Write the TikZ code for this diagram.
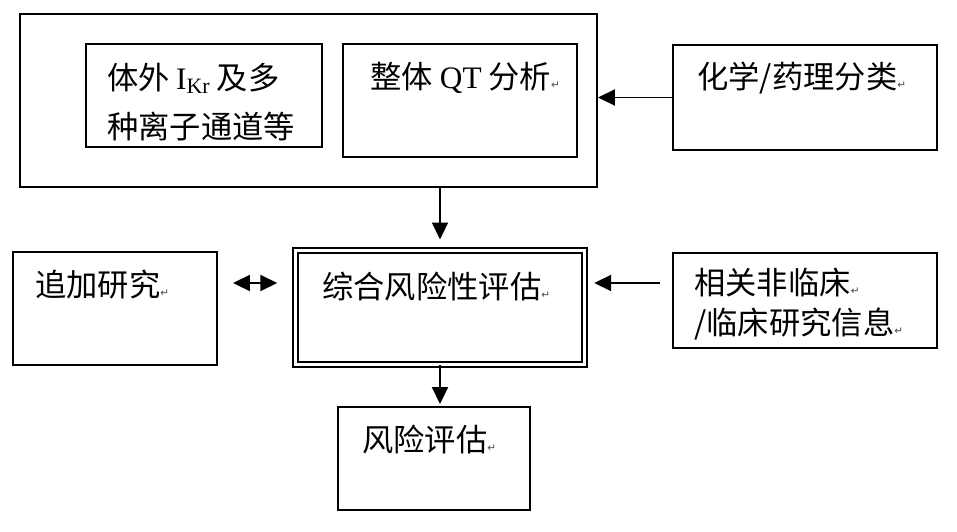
\documentclass[tikz,border=0pt]{standalone}
\usepackage{fontspec}
\setmainfont{Noto Sans CJK SC}
\newfontfamily\latin{Liberation Serif}
\newfontfamily\symfont{DejaVu Sans}
\usetikzlibrary{arrows.meta}
% 段落标记
\newcommand{\pmark}{{\symfont\fontsize{6}{6}\selectfont\color{black!70}↵}}

\begin{document}
\begin{tikzpicture}[
    % 定义样式
    mytip/.tip={Triangle[length=0.34cm, width=0.32cm]},
    mybox/.style={draw=black, line width=1.1pt, inner sep=0pt},
    mydouble/.style={draw=black, double, double distance=1.9pt, line width=1.1pt, inner sep=0pt},
    myarrow/.style={line width=1.1pt, -mytip},
    mydarrow/.style={line width=1.1pt, mytip-mytip},
    mylabel/.style={font={\fontsize{17.8}{27.8}\selectfont}, inner sep=0pt, anchor=west, align=left}
]
    \useasboundingbox (0,0) rectangle (19.14,-10.62);

    % 方框
    \node [mybox, minimum width=11.54cm, minimum height=3.46cm] (qtframe) at (6.17, -2.01) {};
    \node [mybox, minimum width=4.72cm, minimum height=2.06cm] (ikr) at (4.08, -1.91) {};
    \node [mybox, minimum width=4.68cm, minimum height=2.26cm] (qt) at (9.20, -2.01) {};
    \node [mybox, minimum width=5.28cm, minimum height=2.10cm] (chem) at (16.10, -1.95) {};
    \node [mybox, minimum width=4.08cm, minimum height=2.26cm] (extra) at (2.30, -6.17) {};
    \node [mydouble, minimum width=5.79cm, minimum height=2.28cm] (assess) at (8.80, -6.15) {};
    \node [mybox, minimum width=5.28cm, minimum height=1.90cm] (info) at (16.10, -6.01) {};
    \node [mybox, minimum width=3.84cm, minimum height=2.06cm] (risk) at (8.68, -9.17) {};

    % 文字
    \node [mylabel] (ikrtext) at (2.14, -2.035) {体外\hspace{0.2em}{\latin I\textsubscript{Kr}}\hspace{0.2em}及多\\种离子通道等};
    \node [mylabel] (qttext) at (7.40, -1.56) {整体 {\latin QT} 分析\pmark};
    \node [mylabel] (chemtext) at (13.94, -1.56) {化学/药理分类\pmark};
    \node [mylabel] (extratext) at (0.70, -5.70) {追加研究\pmark};
    \node [mylabel] (assesstext) at (6.44, -5.74) {综合风险性评估\pmark};
    \node [mylabel, font={\fontsize{17.8}{22.7}\selectfont}] (infotext) at (13.88, -6.08) {相关非临床\pmark\\/临床研究信息\pmark};
    \node [mylabel] (risktext) at (7.24, -8.80) {风险评估\pmark};

    % 连线
    \draw [myarrow] (chem.west) -- (chem.west -| qtframe.east);
    \draw [myarrow, shorten >=0.2cm] (qtframe.south -| assess.north) -- (assess.north);
    \draw [mydarrow, shorten <=0.3cm, shorten >=0.34cm] ([yshift=0.51cm]extra.east) -- ([yshift=0.51cm]extra.east -| assess.west);
    \draw [myarrow, shorten <=0.24cm, shorten >=0.17cm] ([yshift=0.35cm]info.west) -- ([yshift=0.35cm]info.west -| assess.east);
    \draw [myarrow, shorten >=0.04cm] (assess.south) -- (assess.south |- risk.north);
\end{tikzpicture}
\end{document}
